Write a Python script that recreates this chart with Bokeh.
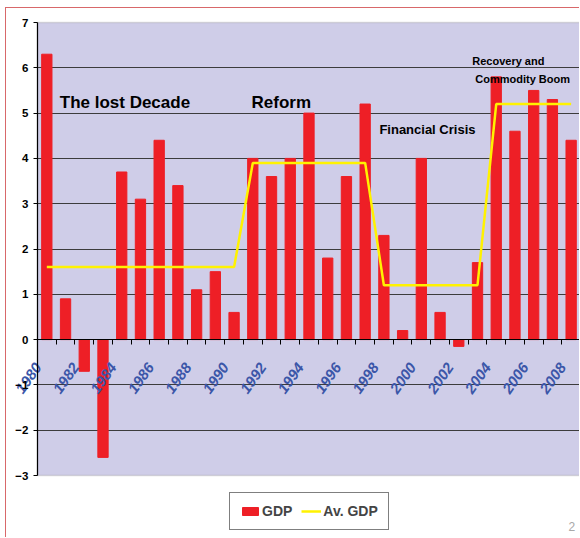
import math
from bokeh.plotting import figure
from bokeh.models import (FixedTicker, Label, Legend, LegendItem, ColumnDataSource, Range1d,
                          BoxAnnotation, CustomJSTickFormatter)
from bokeh.embed import file_html
from bokeh.resources import INLINE

years = [1980, 1981, 1982, 1983, 1984, 1985, 1986, 1987, 1988, 1989,
         1990, 1991, 1992, 1993, 1994, 1995, 1996, 1997, 1998, 1999,
         2000, 2001, 2002, 2003, 2004, 2005, 2006, 2007, 2008]
gdp = [6.3, 0.9, -0.7, -2.6, 3.7, 3.1, 4.4, 3.4, 1.1, 1.5,
       0.6, 4.0, 3.6, 4.0, 5.0, 1.8, 3.6, 5.2, 2.3, 0.2,
       4.0, 0.6, -0.15, 1.7, 5.8, 4.6, 5.5, 5.3, 4.4]
avg_gdp = [1.6, 1.6, 1.6, 1.6, 1.6, 1.6, 1.6, 1.6, 1.6, 1.6,
           1.6, 3.9, 3.9, 3.9, 3.9, 3.9, 3.9, 3.9, 1.2, 1.2,
           1.2, 1.2, 1.2, 1.2, 5.2, 5.2, 5.2, 5.2, 5.2]
x_tick_labels = [1980, 1982, 1984, 1986, 1988, 1990, 1992, 1994, 1996,
                 1998, 2000, 2002, 2004, 2006, 2008]
y_ticks = [-3, -2, -1, 0, 1, 2, 3, 4, 5, 6, 7]
series_names = ["GDP", "Av. GDP"]
annotations = ["The lost Decade", "Reform", "Financial Crisis",
               "Recovery and", "Commodity Boom"]

FONT = "Liberation Sans"
PX_PER_YEAR = 18.75
PX_PER_UNIT = 45.3
FIG_H = 530
LABEL_SHIFT = 0.45   # horizontal nudge of the rotated year labels (in years)

src = ColumnDataSource(dict(year=years, gdp=gdp, avg=avg_gdp))

x_lo = years[0] - 0.5
x_hi = years[-1] + 0.5
y_hi = y_ticks[-1] + 14 / PX_PER_UNIT
y_lo = y_hi - FIG_H / PX_PER_UNIT

p = figure(width=574, height=FIG_H,
           x_range=Range1d(x_lo - 31 / PX_PER_YEAR, x_hi),
           y_range=Range1d(y_lo, y_hi),
           output_backend="svg", toolbar_location=None,
           min_border_left=0, min_border_right=0,
           min_border_top=0, min_border_bottom=0)
p.title.visible = False
p.styles = {"margin-left": "5px", "margin-top": "7px",
            "border-left": "1px solid #d8686a", "border-top": "1px solid #d8686a"}

p.background_fill_color = "white"
p.border_fill_color = "white"
p.outline_line_color = None

# lavender plot area between -3 and 7
p.add_layout(BoxAnnotation(bottom=y_ticks[0], top=y_ticks[-1], left=x_lo, level="image",
                           fill_color="#cfcde8", fill_alpha=1,
                           line_color="#959595", line_width=1.5))

# grid
p.xgrid.visible = False
p.ygrid.ticker = FixedTicker(ticks=y_ticks[1:-1])
p.ygrid.cross_bounds = (x_lo, x_hi)
p.ygrid.grid_line_color = "#3c3c3c"
p.ygrid.grid_line_width = 1.2

# y axis at the first category edge
ya = p.yaxis[0]
ya.fixed_location = x_lo
ya.ticker = FixedTicker(ticks=y_ticks)
ya.bounds = (y_ticks[0], y_ticks[-1])
ya.major_tick_out = 4
ya.major_tick_in = 0
ya.minor_tick_line_color = None
ya.axis_line_color = "black"
ya.axis_line_width = 1.2
ya.major_label_text_font = FONT
ya.major_label_text_font_style = "bold"
ya.major_label_text_font_size = "11.5px"
ya.major_label_text_color = "black"
ya.major_label_standoff = 5

# x axis at zero
xa = p.xaxis[0]
xa.fixed_location = 0
xa.bounds = (x_lo, x_hi)
xa.ticker = FixedTicker(ticks=[y - LABEL_SHIFT for y in x_tick_labels],
                        minor_ticks=[y - 0.5 for y in years] + [x_hi])
xa.formatter = CustomJSTickFormatter(
    args=dict(shift=LABEL_SHIFT),
    code="return String(Math.round(tick + shift));")
xa.major_tick_out = 0
xa.major_tick_in = 0
xa.minor_tick_out = 5
xa.minor_tick_in = 0
xa.minor_tick_line_color = "black"
xa.axis_line_color = "black"
xa.axis_line_width = 1.2
xa.major_label_orientation = 0.95
xa.major_label_text_color = "#3b56a8"
xa.major_label_text_font = FONT
xa.major_label_text_font_style = "bold italic"
xa.major_label_text_font_size = "15px"
xa.major_label_standoff = 20

bars = p.vbar(x="year", top="gdp", bottom=0, width=0.55, source=src,
              fill_color="#ee1f26", line_color="#ee1f26")
line = p.line(x="year", y="avg", source=src, line_color="#fff200", line_width=2.5)

legend = Legend(items=[LegendItem(label=series_names[0], renderers=[bars]),
                       LegendItem(label=series_names[1], renderers=[line])],
                location=(223, 8), orientation="horizontal",
                padding=10, spacing=9, glyph_width=20, glyph_height=10,
                label_height=14, label_standoff=2,
                label_text_font=FONT, label_text_font_style="bold",
                label_text_font_size="14px",
                border_line_color="black", border_line_width=1,
                background_fill_color="white", background_fill_alpha=1,
                margin=0)
p.add_layout(legend)

def ann(text, x, y, size, align="left"):
    p.add_layout(Label(x=x, y=y, text=text, text_font=FONT, text_font_style="bold",
                       text_font_size=size, text_color="black",
                       text_align=align, text_baseline="middle"))

ann(annotations[0], 1980.69, 5.23, "17px")
ann(annotations[1], 1990.93, 5.23, "17px")
ann(annotations[2], 1997.76, 4.64, "13px")
ann(annotations[3], 2002.72, 6.16, "11px")
ann(annotations[4], 2002.88, 5.76, "11px")

p.add_layout(Label(x=562, y=8, x_units="screen", y_units="screen", text="2",
                   text_font=FONT, text_font_size="12px",
                   text_color="#a8a8a8"))

open("out.html", "w").write(file_html(p, INLINE))
